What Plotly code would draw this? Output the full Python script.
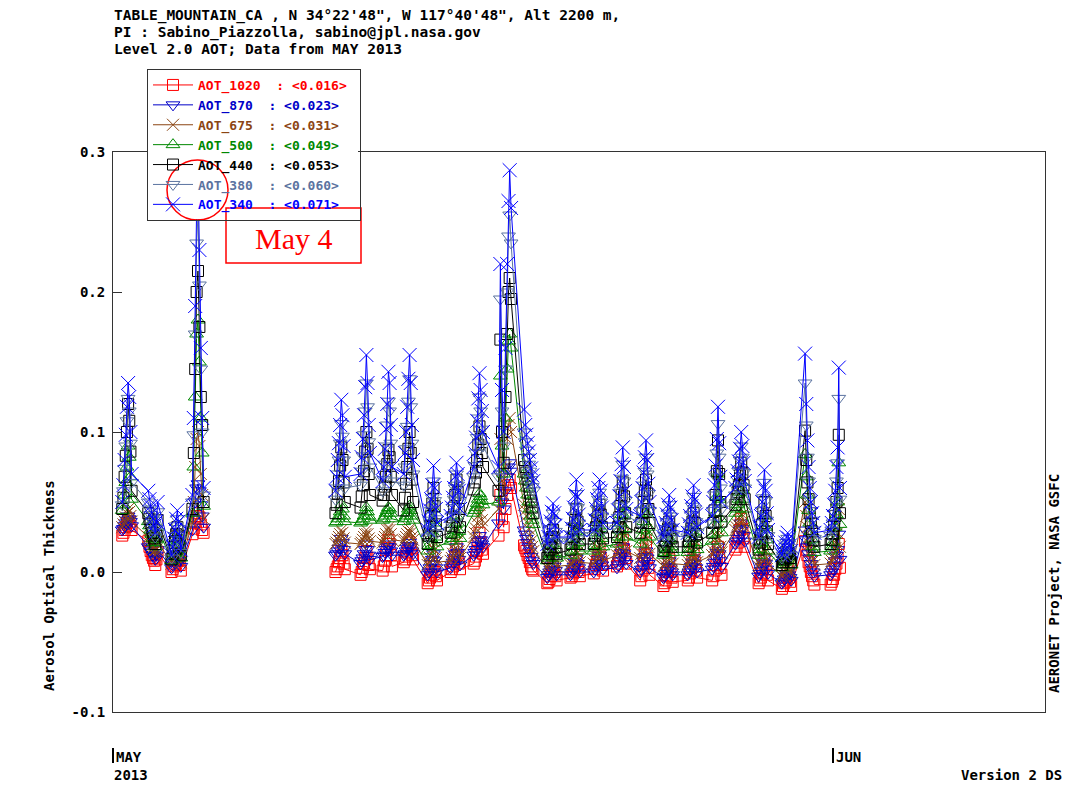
import pandas as pd
import plotly.graph_objects as go

# AERONET Table Mountain, Level 2.0 AOT, May 2013
# observation times: days after 2013-05-01 00:00 UTC, one list per measurement day
obs_days = [
    [0.40, 0.45, 0.50, 0.55, 0.60, 0.65, 0.70, 0.75, 0.80],
    [1.52, 1.57, 1.62, 1.67, 1.72, 1.77, 1.82, 1.87, 1.92],
    [2.52, 2.57, 2.62, 2.67, 2.72, 2.77, 2.82, 2.87, 2.92],
    [3.42, 3.48, 3.54, 3.60, 3.66, 3.72, 3.78, 3.84, 3.90],
    [9.58, 9.63, 9.68, 9.73, 9.78, 9.83, 9.88, 9.93, 9.98],
    [10.66, 10.71, 10.76, 10.81, 10.86, 10.91, 10.96, 11.01, 11.06],
    [11.61, 11.66, 11.71, 11.76, 11.81, 11.86, 11.91, 11.96, 12.01],
    [12.52, 12.57, 12.62, 12.67, 12.72, 12.77, 12.82, 12.87, 12.92],
    [13.55, 13.60, 13.65, 13.70, 13.75, 13.80, 13.85, 13.90, 13.95],
    [14.54, 14.59, 14.64, 14.69, 14.74, 14.79, 14.84, 14.89, 14.94],
    [15.53, 15.58, 15.63, 15.68, 15.73, 15.78, 15.83, 15.88, 15.93],
    [16.60, 16.68, 16.75, 16.82, 16.90, 16.97, 17.03, 17.08, 17.14],
    [17.70, 17.75, 17.80, 17.85, 17.90, 17.95, 18.00, 18.05, 18.10],
    [18.70, 18.75, 18.80, 18.85, 18.90, 18.95, 19.00, 19.05, 19.10],
    [19.70, 19.75, 19.80, 19.85, 19.90, 19.95, 20.00, 20.05, 20.10],
    [20.70, 20.75, 20.80, 20.85, 20.90, 20.95, 21.00, 21.05, 21.10],
    [21.70, 21.75, 21.80, 21.85, 21.90, 21.95, 22.00, 22.05, 22.10],
    [22.70, 22.75, 22.80, 22.85, 22.90, 22.95, 23.00, 23.05, 23.10],
    [23.70, 23.75, 23.80, 23.85, 23.90, 23.95, 24.00, 24.05, 24.10],
    [24.75, 24.80, 24.85, 24.90, 24.95, 25.00, 25.05, 25.10, 25.15],
    [25.80, 25.85, 25.90, 25.95, 26.00, 26.05, 26.10, 26.15, 26.20],
    [26.80, 26.85, 26.90, 26.95, 27.00, 27.05, 27.10, 27.15, 27.20],
    [27.80, 27.85, 27.90, 27.95, 28.00, 28.05, 28.10, 28.15, 28.20],
    [28.80, 28.85, 28.90, 28.95, 29.00, 29.05, 29.10, 29.15, 29.20],
    [29.80, 29.85, 29.90, 29.95, 30.00, 30.05, 30.10, 30.15, 30.20],
    [30.90, 30.95, 31.00, 31.05, 31.10, 31.15, 31.20, 31.25, 31.30],
]

# no measurements May 5 - May 9: line is broken after this day index
break_after = 3

aot_1020 = [
    [0.026, 0.028, 0.030, 0.032, 0.035, 0.038, 0.036, 0.033, 0.030],
    [0.022, 0.018, 0.015, 0.012, 0.010, 0.008, 0.005, 0.009, 0.014],
    [0.000, 0.002, 0.004, 0.006, 0.008, 0.010, 0.008, 0.005, 0.001],
    [0.027, 0.031, 0.036, 0.040, 0.042, 0.039, 0.034, 0.030, 0.028],
    [0.000, 0.002, 0.004, 0.007, 0.010, 0.015, 0.012, 0.006, 0.002],
    [-0.002, 0.000, 0.003, 0.006, 0.010, 0.015, 0.010, 0.005, 0.002],
    [0.001, 0.004, 0.008, 0.012, 0.017, 0.023, 0.020, 0.012, 0.004],
    [0.007, 0.009, 0.011, 0.014, 0.017, 0.021, 0.017, 0.012, 0.009],
    [-0.008, -0.006, -0.004, -0.002, 0.001, 0.004, 0.000, -0.003, -0.006],
    [0.000, 0.002, 0.004, 0.007, 0.011, 0.018, 0.012, 0.006, 0.002],
    [0.006, 0.008, 0.011, 0.015, 0.020, 0.028, 0.021, 0.016, 0.013],
    [0.026, 0.055, 0.038, 0.032, 0.045, 0.055, 0.062, 0.066, 0.060],
    [0.019, 0.017, 0.015, 0.012, 0.010, 0.007, 0.004, 0.002, 0.001],
    [-0.008, -0.007, -0.005, -0.003, 0.000, 0.004, 0.000, -0.003, -0.006],
    [-0.004, -0.003, -0.001, 0.001, 0.004, 0.009, 0.003, 0.000, -0.003],
    [-0.001, 0.002, 0.005, 0.008, 0.012, 0.018, 0.010, 0.005, 0.001],
    [0.004, 0.006, 0.009, 0.012, 0.017, 0.023, 0.016, 0.010, 0.006],
    [-0.006, -0.003, 0.001, 0.006, 0.012, 0.021, 0.010, 0.003, -0.002],
    [-0.010, -0.008, -0.006, -0.003, 0.001, 0.009, 0.000, -0.004, -0.007],
    [-0.006, -0.004, -0.001, 0.003, 0.008, 0.016, 0.007, 0.001, -0.004],
    [-0.006, -0.003, 0.001, 0.005, 0.011, 0.018, 0.010, 0.003, -0.002],
    [0.016, 0.018, 0.021, 0.025, 0.030, 0.038, 0.031, 0.024, 0.018],
    [-0.008, -0.006, -0.004, -0.001, 0.003, 0.009, 0.002, -0.002, -0.006],
    [-0.012, -0.010, -0.008, -0.006, -0.003, 0.002, -0.004, -0.007, -0.010],
    [0.022, 0.016, 0.012, 0.007, 0.004, 0.000, -0.003, -0.006, -0.009],
    [-0.009, -0.007, -0.005, -0.002, 0.002, 0.006, 0.010, 0.020, 0.003],
]

aot_870 = [
    [0.030, 0.031, 0.033, 0.035, 0.037, 0.040, 0.038, 0.036, 0.033],
    [0.018, 0.017, 0.015, 0.014, 0.012, 0.011, 0.009, 0.012, 0.016],
    [0.003, 0.005, 0.007, 0.009, 0.011, 0.013, 0.011, 0.008, 0.004],
    [0.030, 0.038, 0.050, 0.060, 0.063, 0.058, 0.048, 0.040, 0.032],
    [0.012, 0.013, 0.015, 0.017, 0.020, 0.024, 0.021, 0.016, 0.013],
    [0.006, 0.008, 0.010, 0.013, 0.016, 0.020, 0.016, 0.012, 0.009],
    [0.011, 0.012, 0.014, 0.016, 0.018, 0.020, 0.018, 0.015, 0.012],
    [0.012, 0.013, 0.015, 0.017, 0.019, 0.021, 0.018, 0.015, 0.013],
    [-0.002, 0.000, 0.003, 0.006, 0.009, 0.013, 0.008, 0.003, 0.000],
    [0.003, 0.005, 0.007, 0.010, 0.013, 0.018, 0.014, 0.009, 0.005],
    [0.012, 0.014, 0.016, 0.019, 0.022, 0.026, 0.023, 0.020, 0.018],
    [0.035, 0.070, 0.050, 0.045, 0.058, 0.068, 0.075, 0.078, 0.072],
    [0.030, 0.027, 0.024, 0.021, 0.018, 0.015, 0.011, 0.008, 0.006],
    [-0.004, -0.002, 0.000, 0.002, 0.005, 0.009, 0.004, 0.001, -0.002],
    [-0.002, 0.000, 0.002, 0.004, 0.007, 0.010, 0.006, 0.003, 0.000],
    [0.000, 0.002, 0.004, 0.006, 0.009, 0.012, 0.008, 0.005, 0.002],
    [0.003, 0.005, 0.008, 0.011, 0.014, 0.018, 0.013, 0.009, 0.006],
    [0.000, 0.002, 0.005, 0.008, 0.011, 0.015, 0.010, 0.006, 0.003],
    [-0.004, -0.003, -0.001, 0.001, 0.004, 0.008, 0.003, 0.000, -0.002],
    [-0.002, 0.000, 0.002, 0.004, 0.007, 0.010, 0.006, 0.003, 0.000],
    [0.002, 0.004, 0.007, 0.010, 0.014, 0.018, 0.013, 0.008, 0.004],
    [0.020, 0.022, 0.024, 0.027, 0.030, 0.035, 0.031, 0.026, 0.022],
    [-0.003, -0.001, 0.001, 0.004, 0.007, 0.010, 0.006, 0.002, -0.001],
    [-0.008, -0.007, -0.005, -0.003, -0.001, 0.001, -0.002, -0.004, -0.006],
    [0.030, 0.023, 0.018, 0.013, 0.010, 0.006, 0.003, 0.000, -0.003],
    [-0.002, 0.000, 0.002, 0.005, 0.008, 0.012, 0.016, 0.027, 0.009],
]

aot_675 = [
    [0.032, 0.034, 0.036, 0.039, 0.042, 0.045, 0.043, 0.040, 0.036],
    [0.025, 0.023, 0.021, 0.019, 0.017, 0.015, 0.012, 0.016, 0.022],
    [0.006, 0.008, 0.010, 0.012, 0.015, 0.018, 0.015, 0.011, 0.007],
    [0.035, 0.050, 0.075, 0.095, 0.100, 0.090, 0.070, 0.055, 0.038],
    [0.020, 0.021, 0.023, 0.025, 0.027, 0.030, 0.028, 0.024, 0.021],
    [0.020, 0.021, 0.023, 0.025, 0.027, 0.030, 0.027, 0.024, 0.022],
    [0.021, 0.023, 0.025, 0.027, 0.030, 0.032, 0.030, 0.027, 0.023],
    [0.022, 0.023, 0.025, 0.027, 0.029, 0.031, 0.028, 0.025, 0.023],
    [0.005, 0.007, 0.010, 0.013, 0.017, 0.022, 0.016, 0.010, 0.007],
    [0.008, 0.010, 0.013, 0.016, 0.021, 0.028, 0.022, 0.015, 0.010],
    [0.025, 0.028, 0.031, 0.035, 0.040, 0.048, 0.042, 0.037, 0.033],
    [0.045, 0.095, 0.065, 0.055, 0.075, 0.095, 0.105, 0.110, 0.100],
    [0.048, 0.044, 0.040, 0.035, 0.031, 0.026, 0.022, 0.018, 0.015],
    [0.003, 0.004, 0.006, 0.008, 0.011, 0.015, 0.010, 0.007, 0.004],
    [0.005, 0.006, 0.008, 0.011, 0.015, 0.020, 0.014, 0.010, 0.007],
    [0.006, 0.008, 0.011, 0.014, 0.017, 0.020, 0.016, 0.012, 0.008],
    [0.012, 0.015, 0.019, 0.023, 0.028, 0.034, 0.027, 0.020, 0.015],
    [0.010, 0.013, 0.016, 0.020, 0.025, 0.030, 0.024, 0.018, 0.013],
    [0.004, 0.005, 0.007, 0.010, 0.013, 0.017, 0.012, 0.008, 0.006],
    [0.005, 0.007, 0.009, 0.012, 0.015, 0.019, 0.014, 0.010, 0.007],
    [0.012, 0.015, 0.018, 0.021, 0.025, 0.030, 0.024, 0.018, 0.014],
    [0.030, 0.032, 0.034, 0.037, 0.040, 0.045, 0.041, 0.036, 0.032],
    [0.004, 0.006, 0.009, 0.012, 0.016, 0.020, 0.015, 0.010, 0.006],
    [-0.003, -0.002, 0.000, 0.002, 0.005, 0.007, 0.004, 0.001, -0.001],
    [0.050, 0.040, 0.032, 0.025, 0.020, 0.015, 0.011, 0.008, 0.005],
    [0.006, 0.008, 0.010, 0.013, 0.017, 0.022, 0.028, 0.045, 0.018],
]

aot_500 = [
    [0.044, 0.048, 0.055, 0.064, 0.075, 0.090, 0.082, 0.068, 0.052],
    [0.036, 0.033, 0.030, 0.027, 0.024, 0.021, 0.018, 0.023, 0.032],
    [0.008, 0.011, 0.015, 0.019, 0.023, 0.027, 0.022, 0.016, 0.010],
    [0.042, 0.075, 0.125, 0.170, 0.180, 0.150, 0.110, 0.085, 0.047],
    [0.035, 0.036, 0.038, 0.040, 0.043, 0.048, 0.045, 0.040, 0.036],
    [0.035, 0.036, 0.038, 0.040, 0.043, 0.046, 0.043, 0.040, 0.037],
    [0.037, 0.038, 0.040, 0.042, 0.044, 0.046, 0.045, 0.042, 0.038],
    [0.036, 0.038, 0.040, 0.042, 0.045, 0.047, 0.044, 0.040, 0.037],
    [0.015, 0.019, 0.024, 0.030, 0.037, 0.045, 0.035, 0.025, 0.018],
    [0.022, 0.024, 0.027, 0.030, 0.034, 0.040, 0.035, 0.029, 0.024],
    [0.042, 0.044, 0.046, 0.049, 0.052, 0.056, 0.054, 0.051, 0.048],
    [0.050, 0.140, 0.090, 0.070, 0.110, 0.145, 0.165, 0.170, 0.160],
    [0.070, 0.065, 0.060, 0.055, 0.050, 0.045, 0.040, 0.037, 0.034],
    [0.008, 0.010, 0.013, 0.016, 0.020, 0.025, 0.019, 0.014, 0.010],
    [0.012, 0.015, 0.019, 0.024, 0.029, 0.035, 0.028, 0.021, 0.015],
    [0.015, 0.019, 0.024, 0.028, 0.033, 0.037, 0.031, 0.024, 0.018],
    [0.020, 0.025, 0.030, 0.035, 0.041, 0.047, 0.040, 0.031, 0.025],
    [0.020, 0.025, 0.030, 0.036, 0.042, 0.048, 0.041, 0.032, 0.025],
    [0.012, 0.014, 0.017, 0.020, 0.024, 0.028, 0.023, 0.018, 0.014],
    [0.014, 0.017, 0.020, 0.024, 0.028, 0.032, 0.027, 0.021, 0.016],
    [0.022, 0.027, 0.034, 0.042, 0.054, 0.070, 0.052, 0.038, 0.028],
    [0.042, 0.045, 0.048, 0.052, 0.057, 0.064, 0.059, 0.052, 0.045],
    [0.012, 0.016, 0.021, 0.027, 0.033, 0.040, 0.032, 0.023, 0.015],
    [0.003, 0.005, 0.007, 0.009, 0.012, 0.014, 0.011, 0.008, 0.005],
    [0.084, 0.068, 0.055, 0.044, 0.035, 0.029, 0.023, 0.018, 0.014],
    [0.015, 0.018, 0.021, 0.026, 0.032, 0.041, 0.050, 0.078, 0.034],
]

aot_440 = [
    [0.045, 0.053, 0.068, 0.083, 0.100, 0.120, 0.108, 0.086, 0.058],
    [0.042, 0.038, 0.035, 0.031, 0.028, 0.024, 0.020, 0.026, 0.037],
    [0.009, 0.013, 0.018, 0.022, 0.027, 0.032, 0.026, 0.019, 0.012],
    [0.045, 0.085, 0.145, 0.200, 0.215, 0.175, 0.125, 0.105, 0.050],
    [0.042, 0.048, 0.056, 0.065, 0.076, 0.089, 0.080, 0.064, 0.050],
    [0.046, 0.054, 0.062, 0.072, 0.086, 0.100, 0.088, 0.070, 0.055],
    [0.051, 0.055, 0.061, 0.068, 0.077, 0.087, 0.082, 0.068, 0.055],
    [0.044, 0.053, 0.063, 0.075, 0.088, 0.100, 0.085, 0.066, 0.050],
    [0.020, 0.026, 0.033, 0.040, 0.049, 0.060, 0.047, 0.034, 0.025],
    [0.028, 0.033, 0.039, 0.046, 0.055, 0.066, 0.057, 0.045, 0.032],
    [0.059, 0.064, 0.071, 0.080, 0.091, 0.104, 0.095, 0.085, 0.075],
    [0.058, 0.166, 0.100, 0.078, 0.125, 0.170, 0.200, 0.210, 0.195],
    [0.080, 0.075, 0.071, 0.066, 0.061, 0.056, 0.051, 0.046, 0.042],
    [0.010, 0.013, 0.016, 0.020, 0.025, 0.030, 0.024, 0.018, 0.013],
    [0.016, 0.020, 0.025, 0.031, 0.037, 0.045, 0.036, 0.027, 0.020],
    [0.020, 0.026, 0.032, 0.037, 0.043, 0.048, 0.041, 0.032, 0.024],
    [0.025, 0.032, 0.039, 0.047, 0.055, 0.064, 0.054, 0.042, 0.032],
    [0.028, 0.035, 0.042, 0.050, 0.058, 0.066, 0.056, 0.045, 0.035],
    [0.015, 0.018, 0.022, 0.026, 0.031, 0.036, 0.030, 0.024, 0.018],
    [0.018, 0.022, 0.026, 0.031, 0.036, 0.042, 0.035, 0.027, 0.021],
    [0.028, 0.035, 0.044, 0.055, 0.072, 0.094, 0.070, 0.050, 0.036],
    [0.048, 0.052, 0.057, 0.062, 0.069, 0.078, 0.071, 0.062, 0.052],
    [0.016, 0.021, 0.027, 0.034, 0.042, 0.050, 0.040, 0.029, 0.020],
    [0.005, 0.007, 0.009, 0.011, 0.014, 0.016, 0.013, 0.010, 0.007],
    [0.101, 0.080, 0.064, 0.052, 0.042, 0.035, 0.029, 0.023, 0.018],
    [0.020, 0.023, 0.027, 0.033, 0.040, 0.050, 0.060, 0.098, 0.042],
]

aot_380 = [
    [0.048, 0.058, 0.074, 0.090, 0.108, 0.124, 0.115, 0.092, 0.064],
    [0.050, 0.045, 0.041, 0.037, 0.033, 0.029, 0.025, 0.031, 0.043],
    [0.010, 0.016, 0.021, 0.026, 0.033, 0.038, 0.031, 0.023, 0.014],
    [0.050, 0.098, 0.170, 0.235, 0.255, 0.205, 0.145, 0.100, 0.055],
    [0.052, 0.060, 0.070, 0.080, 0.092, 0.106, 0.097, 0.080, 0.060],
    [0.062, 0.072, 0.083, 0.098, 0.115, 0.135, 0.118, 0.093, 0.075],
    [0.058, 0.066, 0.077, 0.090, 0.105, 0.122, 0.115, 0.092, 0.065],
    [0.062, 0.075, 0.088, 0.104, 0.122, 0.138, 0.118, 0.092, 0.070],
    [0.025, 0.030, 0.037, 0.044, 0.053, 0.065, 0.051, 0.038, 0.028],
    [0.035, 0.040, 0.046, 0.052, 0.060, 0.070, 0.062, 0.051, 0.040],
    [0.068, 0.076, 0.085, 0.096, 0.110, 0.125, 0.115, 0.102, 0.090],
    [0.068, 0.195, 0.115, 0.090, 0.145, 0.200, 0.240, 0.255, 0.235],
    [0.100, 0.093, 0.087, 0.082, 0.077, 0.072, 0.066, 0.061, 0.058],
    [0.018, 0.022, 0.026, 0.031, 0.037, 0.042, 0.036, 0.029, 0.022],
    [0.022, 0.027, 0.033, 0.040, 0.047, 0.056, 0.046, 0.035, 0.026],
    [0.026, 0.032, 0.039, 0.045, 0.052, 0.057, 0.050, 0.040, 0.030],
    [0.031, 0.039, 0.047, 0.057, 0.067, 0.077, 0.065, 0.051, 0.040],
    [0.035, 0.044, 0.053, 0.062, 0.072, 0.082, 0.070, 0.056, 0.044],
    [0.022, 0.026, 0.031, 0.036, 0.042, 0.048, 0.040, 0.032, 0.026],
    [0.025, 0.030, 0.035, 0.041, 0.047, 0.054, 0.045, 0.036, 0.028],
    [0.035, 0.044, 0.055, 0.068, 0.085, 0.106, 0.082, 0.060, 0.045],
    [0.055, 0.060, 0.066, 0.072, 0.080, 0.090, 0.082, 0.071, 0.060],
    [0.022, 0.028, 0.035, 0.044, 0.053, 0.064, 0.051, 0.037, 0.026],
    [0.010, 0.012, 0.015, 0.018, 0.021, 0.024, 0.020, 0.016, 0.012],
    [0.135, 0.105, 0.082, 0.065, 0.052, 0.044, 0.037, 0.030, 0.024],
    [0.026, 0.030, 0.035, 0.042, 0.050, 0.065, 0.078, 0.124, 0.052],
]

aot_340 = [
    [0.050, 0.062, 0.080, 0.098, 0.118, 0.135, 0.125, 0.100, 0.070],
    [0.058, 0.052, 0.047, 0.042, 0.038, 0.033, 0.028, 0.036, 0.050],
    [0.012, 0.018, 0.024, 0.030, 0.038, 0.044, 0.036, 0.026, 0.016],
    [0.055, 0.110, 0.190, 0.260, 0.285, 0.230, 0.160, 0.110, 0.060],
    [0.058, 0.068, 0.080, 0.092, 0.105, 0.123, 0.112, 0.090, 0.068],
    [0.070, 0.082, 0.095, 0.112, 0.132, 0.155, 0.135, 0.105, 0.085],
    [0.065, 0.075, 0.088, 0.102, 0.120, 0.143, 0.135, 0.105, 0.075],
    [0.070, 0.085, 0.100, 0.118, 0.138, 0.155, 0.135, 0.105, 0.080],
    [0.030, 0.036, 0.044, 0.052, 0.062, 0.076, 0.060, 0.045, 0.035],
    [0.040, 0.046, 0.053, 0.060, 0.068, 0.078, 0.070, 0.058, 0.045],
    [0.075, 0.085, 0.096, 0.108, 0.124, 0.142, 0.130, 0.115, 0.100],
    [0.075, 0.220, 0.130, 0.100, 0.160, 0.220, 0.265, 0.287, 0.260],
    [0.116, 0.105, 0.098, 0.092, 0.086, 0.080, 0.074, 0.069, 0.065],
    [0.020, 0.025, 0.030, 0.036, 0.043, 0.049, 0.042, 0.033, 0.025],
    [0.025, 0.031, 0.038, 0.046, 0.055, 0.066, 0.054, 0.041, 0.030],
    [0.030, 0.037, 0.045, 0.052, 0.060, 0.066, 0.058, 0.046, 0.035],
    [0.035, 0.044, 0.054, 0.065, 0.077, 0.089, 0.075, 0.058, 0.045],
    [0.040, 0.050, 0.060, 0.071, 0.082, 0.094, 0.080, 0.063, 0.050],
    [0.025, 0.030, 0.035, 0.041, 0.048, 0.055, 0.046, 0.037, 0.030],
    [0.028, 0.034, 0.040, 0.047, 0.054, 0.062, 0.052, 0.041, 0.032],
    [0.040, 0.050, 0.062, 0.076, 0.095, 0.118, 0.092, 0.068, 0.050],
    [0.060, 0.066, 0.072, 0.079, 0.088, 0.100, 0.090, 0.078, 0.065],
    [0.025, 0.032, 0.040, 0.050, 0.061, 0.073, 0.058, 0.042, 0.030],
    [0.012, 0.015, 0.018, 0.021, 0.025, 0.028, 0.024, 0.019, 0.015],
    [0.156, 0.120, 0.094, 0.075, 0.060, 0.050, 0.042, 0.035, 0.028],
    [0.030, 0.035, 0.040, 0.048, 0.058, 0.075, 0.089, 0.146, 0.060],
]

channels = ["AOT_1020", "AOT_870", "AOT_675", "AOT_500", "AOT_440", "AOT_380", "AOT_340"]
monthly_means = ["0.016", "0.023", "0.031", "0.049", "0.053", "0.060", "0.071"]
channel_values = [aot_1020, aot_870, aot_675, aot_500, aot_440, aot_380, aot_340]

colors = ["#FF0000", "#0000C8", "#8B4513", "#008800", "#000000", "#5B73A0", "#0000FF"]
symbols = ["square-open", "triangle-down-open", "x-thin-open", "triangle-up-open",
           "square-open", "triangle-down-open", "x-thin-open"]
msizes = [11, 12, 12, 12, 11, 12, 14]

start = pd.Timestamp("2013-05-01")
MONO = "DejaVu Sans Mono"
NB = "\u00a0"


def flatten(groups):
    out = []
    for i, g in enumerate(groups):
        out.extend(g)
        if i == break_after:
            out.append(None)
    return out


x_all = [start + pd.Timedelta(days=d) if d is not None else None for d in flatten(obs_days)]

fig = go.Figure()
for name, mean, vals, col, sym, ms in zip(channels, monthly_means, channel_values,
                                           colors, symbols, msizes):
    label = f"<span style='color:{col}'>{name}{NB}{NB}:{NB}&lt;{mean}&gt;{NB}</span>"
    fig.add_trace(go.Scatter(
        x=x_all, y=flatten(vals), mode="lines+markers", name=label,
        line=dict(color=col, width=1),
        marker=dict(symbol=sym, size=ms, color=col, line=dict(color=col, width=1)),
        connectgaps=False,
    ))


# reference pixel -> paper coords (page has an 8px body margin; plot area 113..1045 x 152..712)
def px(x):
    return (x - 113) / 932


def py(y):
    return (712 - y) / 560


font_b = dict(family=MONO, size=14, color="black", weight="bold")
font_h = dict(family=MONO, size=14.5, color="black", weight="bold")

header = [
    "TABLE_MOUNTAIN_CA , N 34°22'48\", W 117°40'48\", Alt 2200 m,",
    "PI : Sabino_Piazzolla, sabino@jpl.nasa.gov",
    "Level 2.0 AOT; Data from MAY 2013",
]
annos = []
for i, line in enumerate(header):
    annos.append(dict(text=line, x=px(112), y=py(15 + 17 * i), xref="paper", yref="paper",
                      xanchor="left", yanchor="middle", showarrow=False, font=font_h))


def note(text, x, y, xa="left", font=font_b, angle=0):
    return dict(text=text, x=px(x), y=py(y), xref="paper", yref="paper",
                xanchor=xa, yanchor="middle", showarrow=False, font=font, textangle=angle)


annos += [
    note("Aerosol Optical Thickness", 49, 586, "center", angle=-90),
    note("AERONET Project, NASA GSFC", 1054, 584, "center", angle=-90),
    note("MAY", 114, 757),
    note("2013", 112, 775),
    note("JUN", 834, 757),
    note("Version 2 DS", 1064, 775, "right"),
    note("May 4", 293.5, 238, "center",
         font=dict(family="Liberation Serif", size=30, color="#FF0000")),
]

shapes = [
    # month tick marks under the axis
    dict(type="line", xref="paper", yref="paper", x0=px(113), x1=px(113),
         y0=py(748), y1=py(763), line=dict(color="black", width=2)),
    dict(type="line", xref="paper", yref="paper", x0=px(833), x1=px(833),
         y0=py(748), y1=py(763), line=dict(color="black", width=2)),
    # white backing of the legend box so the circle can sit over it
    dict(type="rect", xref="paper", yref="paper", x0=px(148), x1=px(358),
         y0=py(219), y1=py(70), fillcolor="white", line=dict(width=0), layer="above"),
    # highlight of the May 4 peak
    dict(type="circle", xref="paper", yref="paper", x0=px(167), x1=px(228),
         y0=py(220), y1=py(160), line=dict(color="#FF0000", width=1.5), layer="above"),
    dict(type="rect", xref="paper", yref="paper", x0=px(226), x1=px(361),
         y0=py(263), y1=py(208), fillcolor="white",
         line=dict(color="#FF0000", width=1.5), layer="above"),
]

fig.update_layout(
    width=1062, height=777,
    margin=dict(l=105, r=25, t=144, b=73, pad=0),
    paper_bgcolor="white", plot_bgcolor="white",
    showlegend=True,
    legend=dict(x=px(147), y=py(69), xanchor="left", yanchor="top",
                bgcolor="rgba(0,0,0,0)", bordercolor="#333333", borderwidth=1,
                font=dict(family=MONO, size=13, weight="bold"),
                itemwidth=40, tracegroupgap=0),
    annotations=annos,
    shapes=shapes,
    xaxis=dict(type="date", range=[start, start + pd.Timedelta(days=40.13)],
               showline=True, linecolor="#333333", linewidth=1, mirror=True,
               showgrid=False, zeroline=False, showticklabels=False, ticks=""),
    yaxis=dict(range=[-0.1, 0.3], tickvals=[-0.1, 0.0, 0.1, 0.2, 0.3],
               ticktext=["-0.1", "0.0", "0.1", "0.2", "0.3"],
               ticks="inside", ticklen=9, tickcolor="#333333",
               showline=True, linecolor="#333333", linewidth=1, mirror=True,
               showgrid=False, zeroline=False, ticklabelstandoff=4,
               tickfont=font_b),
)

fig.write_html("out.html")
